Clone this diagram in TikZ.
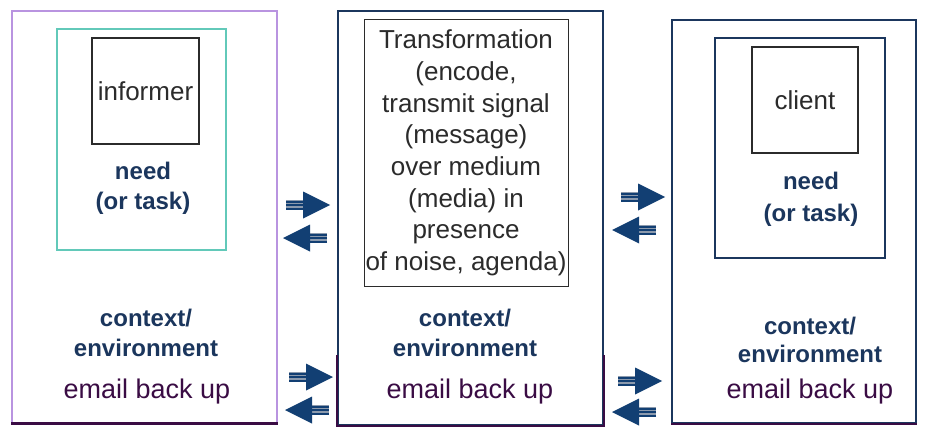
\documentclass[tikz,border=0pt]{standalone}
\usepackage{fontspec}
\setmainfont{Liberation Sans}
\definecolor{navy}{HTML}{1B365D}
\definecolor{arrnavy}{HTML}{123F73}
\definecolor{lav}{HTML}{B994E0}
\definecolor{dpurple}{HTML}{3A0C44}
\definecolor{teal1}{HTML}{62C9B9}
\definecolor{txtgray}{HTML}{2B2B2B}
\definecolor{shaftc}{HTML}{8C9AAD}
\begin{document}
\begin{tikzpicture}[x=1pt,y=-1pt,
  box/.style={draw, line width=1.4pt, inner sep=0pt},
  lbl/.style={font=\fontsize{26}{31.7}\selectfont, text=txtgray, inner sep=0pt, align=center},
  boldlbl/.style={font=\fontsize{24}{30}\selectfont\bfseries, text=navy, align=center, inner sep=0pt},
  emaillbl/.style={font=\fontsize{27}{32}\selectfont, text=dpurple, inner sep=0pt},
  rarr/.pic={
    \fill[shaftc] (-44,-5) rectangle (-24,5);
    \draw[arrnavy, line width=2pt] (-44,-3.2) -- (-24,-3.2) (-44,0.3) -- (-24,0.3) (-44,3.8) -- (-24,3.8);
    \fill[arrnavy] (-27,-13.5) -- (0,0) -- (-27,13.5) -- cycle;
  },
  larr/.pic={
    \fill[shaftc] (44,-5) rectangle (24,5);
    \draw[arrnavy, line width=2pt] (44,-3.2) -- (24,-3.2) (44,0.3) -- (24,0.3) (44,3.8) -- (24,3.8);
    \fill[arrnavy] (27,-13.5) -- (0,0) -- (27,13.5) -- cycle;
  }]
\path[use as bounding box, fill=white] (0,0) rectangle (926,428);

% Box 1 (informer)
\node[box, draw=lav, line width=1.8pt, minimum width=265, minimum height=412] (b1) at (144.5,217) {};
\draw[dpurple, line width=3pt] (b1.south west) -- (b1.south east);
\node[box, draw=teal1, minimum width=169, minimum height=221] (t1) at (141.5,139.5) {};
\node[box, draw=txtgray, minimum width=107, minimum height=106, lbl] (inf) at (145.5,91) {informer};
\node[boldlbl] (need1) at (143,188) {need\\(or task)};
\node[boldlbl] (ctx1) at (146,333) {context/\\environment};
\node[emaillbl] (em1) at (147,392) {email back up};

% Box 2 (transformation)
\node[box, draw=navy, line width=1.8pt, minimum width=265, minimum height=414] (b2) at (470.5,218) {};
\draw[dpurple, line width=1.8pt] (b2.west |- 0,355) -- (b2.south west) -- (b2.south east) -- (b2.east |- 0,355);
\node[box, draw=txtgray, line width=1pt, minimum width=204, minimum height=266, lbl] (tb) at (466,153)
  {Transformation\\(encode,\\transmit signal\\(message)\\over medium\\(media) in\\presence\\of noise, agenda)};
\node[boldlbl] (ctx2) at (465,333) {context/\\environment};
\node[emaillbl] (em2) at (470,392) {email back up};

% Box 3 (client)
\node[box, draw=navy, line width=1.8pt, minimum width=244, minimum height=403] (b3) at (794,221.5) {};
\draw[dpurple, line width=1.8pt] (b3.south west) -- (b3.south east);
\node[box, draw=navy, minimum width=170, minimum height=220] (in3) at (800,148) {};
\node[box, draw=txtgray, minimum width=106, minimum height=106, lbl] (cli) at (805,100) {client};
\node[boldlbl, font=\fontsize{24}{32}\selectfont\bfseries] (need3) at (811,199) {need\\(or task)};
\node[boldlbl, font=\fontsize{24}{28}\selectfont\bfseries] (ctx3) at (810,340) {context/\\environment};
\node[emaillbl] (em3) at (810,392) {email back up};

% Arrows
\pic (ra1) at (330,205) {rarr};
\pic (la1) at (283,238) {larr};
\pic (ra2) at (333,377) {rarr};
\pic (la2) at (285,410) {larr};
\pic (ra3) at (665,197) {rarr};
\pic (la3) at (612,230) {larr};
\pic (ra4) at (662,381) {rarr};
\pic (la4) at (612,412) {larr};
\end{tikzpicture}
\end{document}
